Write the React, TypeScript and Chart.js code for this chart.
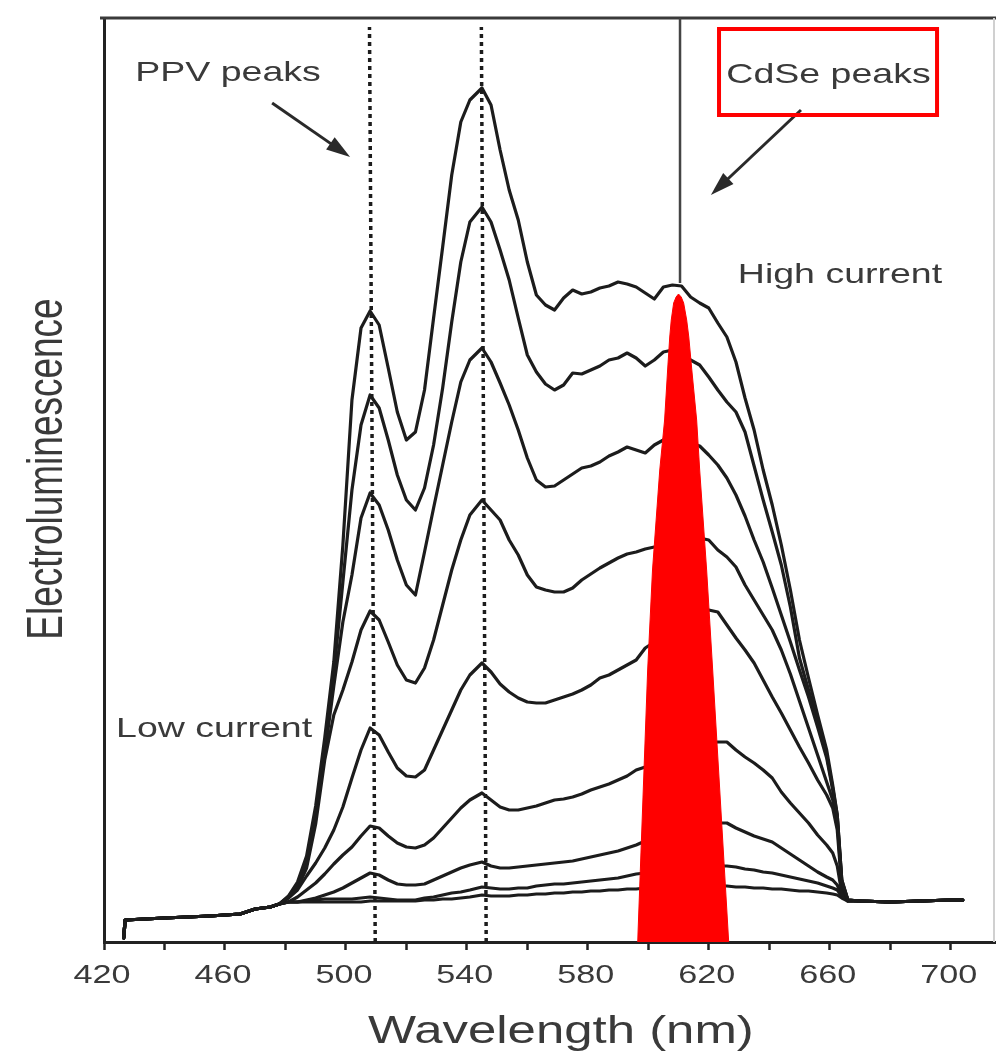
import React, { useEffect, useRef } from 'react';
import { Chart, registerables } from 'chart.js';

Chart.register(...registerables);

// ---------- DATA ----------
// Wavelength grid (nm) shared by the nine electroluminescence spectra
const wavelengths = [
  426.5, 427, 440, 455, 465, 470, 475, 478, 481,
  484, 487, 490, 493, 496, 499, 502, 505, 508, 511, 514, 517, 520, 523, 526, 529, 532, 535, 538, 541,
  545,
  548, 551, 554, 557, 560, 563, 566, 569, 572, 575, 578, 581, 584, 587, 590, 593, 596, 599, 602, 605,
  608, 611, 614, 617, 620, 623, 626, 629, 632, 635, 638, 641, 644, 647, 650, 653, 656, 659,
  661, 662.5, 664, 666, 670, 680, 690, 700, 704,
];

// Electroluminescence (a.u.), highest current first
const current1 = [
  0.4, 2.2, 2.4, 2.6, 2.8, 3.3, 3.5, 3.8, 4.6,
  6.0, 8.6, 13.6, 20.4, 28.0, 39.7, 54.2, 61.4, 63.1, 61.7, 57.4, 53.0, 50.2, 51.0, 55.2, 62.4, 69.5, 76.7, 82.0, 84.2,
  85.4,
  83.7, 79.2, 75.2, 72.2, 68.0, 64.7, 63.7, 63.2, 64.4, 65.2, 64.8, 65.0, 65.4, 65.6, 66.0, 65.8, 65.5, 64.9, 64.3, 65.5,
  65.7, 65.6, 64.5, 63.9, 63.4, 61.9, 60.5, 58.0, 54.4, 51.2, 47.2, 43.7, 39.7, 35.2, 30.2, 26.4, 22.7, 19.2,
  15.7, 12.7, 6.2, 4.2, 4.1, 4.0, 4.1, 4.2, 4.2,
];
const current2 = [
  0.4, 2.2, 2.4, 2.6, 2.8, 3.3, 3.5, 3.8, 4.5,
  5.8, 8.2, 13.0, 19.6, 26.8, 36.0, 45.2, 51.7, 54.7, 53.4, 50.2, 46.7, 44.2, 43.2, 45.4, 49.7, 55.4, 62.0, 68.0, 72.0,
  73.5,
  72.0, 69.2, 66.2, 62.4, 58.7, 57.0, 55.8, 55.2, 55.7, 56.9, 56.8, 57.2, 57.6, 58.2, 58.4, 58.9, 58.4, 57.6, 58.2, 59.0,
  59.2, 58.7, 58.2, 57.7, 56.5, 55.2, 54.0, 53.0, 51.0, 47.6, 44.2, 41.0, 37.7, 33.5, 28.4, 25.2, 22.0, 18.7,
  15.4, 12.7, 6.2, 4.2, 4.1, 4.0, 4.1, 4.2, 4.2,
];
const current3 = [
  0.4, 2.2, 2.4, 2.6, 2.8, 3.3, 3.5, 3.8, 4.5,
  5.6, 7.8, 12.4, 18.8, 25.6, 32.0, 36.7, 42.4, 44.9, 43.7, 41.2, 38.2, 35.7, 34.7, 39.0, 43.4, 47.7, 52.0, 56.0, 58.2,
  59.4,
  58.0, 55.9, 53.7, 51.2, 48.4, 46.2, 45.5, 45.6, 46.2, 46.8, 47.4, 47.6, 48.0, 48.6, 49.0, 49.5, 49.2, 48.9, 49.7, 50.2,
  50.4, 50.2, 49.9, 49.6, 48.7, 47.7, 46.4, 44.7, 42.6, 40.2, 38.0, 35.4, 32.7, 30.0, 27.2, 24.5, 21.5, 18.4,
  15.2, 12.4, 6.0, 4.2, 4.1, 4.0, 4.1, 4.2, 4.2,
];
const current4 = [
  0.4, 2.2, 2.4, 2.6, 2.8, 3.3, 3.5, 3.8, 4.4,
  5.4, 7.4, 11.8, 18.2, 22.7, 25.2, 28.0, 31.2, 33.1, 32.2, 30.0, 27.7, 26.2, 25.9, 27.4, 30.2, 33.7, 37.2, 40.2, 42.7,
  44.2,
  43.2, 42.2, 40.2, 38.7, 36.7, 35.5, 35.2, 35.0, 35.0, 35.4, 36.2, 36.8, 37.4, 37.9, 38.4, 38.8, 39.0, 39.3, 39.5, 39.7,
  39.9, 40.1, 40.2, 40.4, 40.2, 39.2, 38.5, 37.5, 35.7, 34.2, 32.7, 31.2, 29.2, 26.8, 24.1, 21.4, 18.7, 16.0,
  14.2, 12.0, 5.8, 4.2, 4.1, 4.0, 4.1, 4.2, 4.2,
];
const current5 = [
  0.4, 2.2, 2.4, 2.6, 2.8, 3.3, 3.5, 3.8, 4.4,
  5.2, 6.6, 7.9, 9.4, 11.2, 13.5, 16.4, 19.2, 21.4, 20.7, 19.0, 17.4, 16.6, 16.5, 17.2, 19.2, 21.2, 23.2, 25.2, 26.7,
  27.9,
  27.0, 25.8, 25.0, 24.4, 24.0, 23.9, 23.9, 24.2, 24.5, 24.8, 25.2, 25.7, 26.4, 26.7, 27.2, 27.7, 28.2, 29.4, 30.0, 30.6,
  31.4, 32.2, 32.8, 33.2, 33.2, 33.0, 31.7, 30.4, 29.2, 27.9, 26.2, 24.5, 22.9, 21.2, 19.5, 17.9, 16.2, 14.7,
  13.4, 11.2, 5.5, 4.2, 4.1, 4.0, 4.1, 4.2, 4.2,
];
const current6 = [
  0.4, 2.2, 2.4, 2.6, 2.8, 3.3, 3.5, 3.8, 4.0,
  4.5, 5.2, 5.9, 6.8, 7.8, 8.7, 9.5, 10.6, 11.6, 11.4, 10.6, 9.9, 9.5, 9.4, 9.7, 10.4, 11.4, 12.4, 13.4, 14.2,
  14.9,
  14.2, 13.5, 13.2, 13.2, 13.4, 13.6, 13.9, 14.2, 14.3, 14.5, 14.8, 15.2, 15.5, 15.8, 16.2, 16.6, 17.2, 17.5, 18.0, 18.4,
  18.9, 19.2, 19.5, 19.7, 19.9, 20.0, 20.0, 19.2, 18.5, 17.9, 17.2, 16.4, 15.0, 13.9, 12.9, 11.9, 10.7, 9.7,
  8.9, 7.6, 4.9, 4.1, 4.1, 4.0, 4.1, 4.2, 4.2,
];
const current7 = [
  0.4, 2.2, 2.4, 2.6, 2.8, 3.3, 3.5, 3.8, 4.0,
  4.0, 4.2, 4.4, 4.7, 5.0, 5.4, 5.9, 6.4, 6.9, 6.7, 6.2, 5.8, 5.7, 5.7, 5.8, 6.2, 6.6, 7.0, 7.4, 7.7,
  8.0,
  7.6, 7.4, 7.4, 7.5, 7.6, 7.7, 7.8, 7.9, 8.0, 8.1, 8.3, 8.5, 8.7, 8.9, 9.1, 9.4, 9.7, 10.1, 10.4, 10.6,
  10.9, 11.2, 11.4, 11.6, 11.8, 11.9, 11.9, 11.4, 11.0, 10.6, 10.3, 10.0, 9.4, 8.8, 8.2, 7.6, 7.0, 6.5,
  6.2, 5.7, 4.7, 4.1, 4.1, 4.0, 4.1, 4.2, 4.2,
];
const current8 = [
  0.4, 2.2, 2.4, 2.6, 2.8, 3.3, 3.5, 3.8, 4.0,
  4.0, 4.1, 4.2, 4.3, 4.3, 4.3, 4.3, 4.4, 4.5, 4.4, 4.3, 4.2, 4.2, 4.2, 4.4, 4.5, 4.7, 4.9, 5.0, 5.2,
  5.5,
  5.4, 5.3, 5.3, 5.4, 5.4, 5.6, 5.7, 5.8, 5.8, 5.9, 6.0, 6.1, 6.2, 6.3, 6.4, 6.6, 6.8, 6.9, 7.0, 7.1,
  7.2, 7.3, 7.4, 7.4, 7.5, 7.6, 7.6, 7.5, 7.3, 7.2, 7.0, 6.9, 6.7, 6.5, 6.3, 6.1, 5.9, 5.6,
  5.4, 5.2, 4.6, 4.1, 4.1, 4.0, 4.1, 4.2, 4.2,
];
const current9 = [
  0.4, 2.2, 2.4, 2.6, 2.8, 3.3, 3.5, 3.8, 4.0,
  4.0, 4.0, 4.0, 4.0, 4.0, 4.0, 4.0, 4.0, 4.1, 4.1, 4.1, 4.1, 4.1, 4.1, 4.2, 4.2, 4.3, 4.3, 4.4, 4.5,
  4.7,
  4.6, 4.6, 4.6, 4.7, 4.7, 4.8, 4.8, 4.9, 4.9, 5.0, 5.0, 5.1, 5.1, 5.2, 5.2, 5.3, 5.3, 5.4, 5.4, 5.4,
  5.5, 5.5, 5.5, 5.6, 5.6, 5.6, 5.6, 5.5, 5.5, 5.4, 5.4, 5.3, 5.3, 5.2, 5.1, 5.1, 5.0, 4.9,
  4.8, 4.7, 4.4, 4.1, 4.1, 4.0, 4.1, 4.2, 4.2,
];

// Red CdSe emission peak overlay (outline points)
const cdseWavelengths = [596.5, 599.8, 601.4, 603.8, 605.4, 606.4, 607.1, 607.6, 608.4, 609.2, 610.0, 610.9, 611.7, 612.7, 613.4, 614.4, 616.0, 617.0, 619.3, 621.3, 626.6];
const cdseValues = [0, 27.2, 37.2, 47.2, 52.2, 57.2, 60.5, 62.2, 63.9, 64.5, 64.8, 64.5, 63.9, 62.2, 60.5, 57.2, 52.2, 47.2, 37.2, 27.2, 0];

// PPV peak markers (dotted), bottom and top wavelength of each line
const ppvPeakBottom = [509.7, 546.4];
const ppvPeakTop = [507.8, 544.8];
// CdSe peak marker (solid)
const cdsePeak = 610.5;

// Axis
const xTickLabels = [420, 460, 500, 540, 580, 620, 660, 700];
const X_MIN = 420;
const X_MAX = 715;
const Y_MAX = 92.4;

// ---------- STYLE ----------
const SX = 1.34; // horizontal text stretch of the scanned figure
const FONT = '"Liberation Sans", Arial, Helvetica, sans-serif';
const TEXT_COLOR = '#3a3a3a';
const INK = '#1c1c1c';

function stretchedText(ctx: CanvasRenderingContext2D, text: string, x: number, y: number, size: number, rotate = false) {
  ctx.save();
  ctx.translate(x, y);
  if (rotate) {
    ctx.rotate(-Math.PI / 2);
    ctx.scale(1, SX);
  } else {
    ctx.scale(SX, 1);
  }
  ctx.font = `${size}px ${FONT}`;
  ctx.fillStyle = TEXT_COLOR;
  ctx.textAlign = 'center';
  ctx.textBaseline = 'alphabetic';
  ctx.fillText(text, 0, 0);
  ctx.restore();
}

function drawArrow(ctx: CanvasRenderingContext2D, x1: number, y1: number, x2: number, y2: number) {
  const ang = Math.atan2(y2 - y1, x2 - x1);
  const len = 24;
  const half = 7.5;
  const bx = x2 - Math.cos(ang) * len;
  const by = y2 - Math.sin(ang) * len;
  ctx.save();
  ctx.strokeStyle = '#2a2a2a';
  ctx.fillStyle = '#2a2a2a';
  ctx.lineWidth = 3;
  ctx.beginPath();
  ctx.moveTo(x1, y1);
  ctx.lineTo(bx + Math.cos(ang) * 4, by + Math.sin(ang) * 4);
  ctx.stroke();
  ctx.beginPath();
  ctx.moveTo(x2, y2);
  ctx.lineTo(bx + Math.sin(ang) * half, by - Math.cos(ang) * half);
  ctx.lineTo(bx - Math.sin(ang) * half, by + Math.cos(ang) * half);
  ctx.closePath();
  ctx.fill();
  ctx.restore();
}

const framePlugin = {
  id: 'frame',
  beforeDatasetsDraw(chart: any) {
    const { ctx, chartArea } = chart;
    ctx.save();
    ctx.strokeStyle = '#3a3a3a';
    ctx.lineWidth = 3;
    ctx.beginPath();
    ctx.moveTo(chartArea.left - 4, chartArea.top);
    ctx.lineTo(chart.width, chartArea.top);
    ctx.stroke();
    ctx.strokeStyle = '#d0d0d0';
    ctx.lineWidth = 2;
    ctx.beginPath();
    ctx.moveTo(chart.width - 2, chartArea.top);
    ctx.lineTo(chart.width - 2, chartArea.bottom);
    ctx.stroke();
    ctx.restore();
  },
};

const annotationPlugin = {
  id: 'annotations',
  afterDraw(chart: any) {
    const { ctx, chartArea } = chart;
    const xs = chart.scales.x;
    const ys = chart.scales.y;
    const px = (v: number) => xs.getPixelForValue(v);
    const py = (v: number) => ys.getPixelForValue(v);

    // arrows
    drawArrow(ctx, px(475.6), py(83.9), px(501.4), py(78.5));
    drawArrow(ctx, px(650.5), py(83.2), px(620.7), py(74.7));

    // red box around "CdSe peaks"
    ctx.save();
    ctx.strokeStyle = '#ff0000';
    ctx.lineWidth = 4;
    const bx1 = px(623.4), bx2 = px(695.5), by1 = py(91.3), by2 = py(82.7);
    ctx.strokeRect(bx1, by1, bx2 - bx1, by2 - by1);
    ctx.restore();

    // annotation texts
    stretchedText(ctx, 'PPV peaks', px(461.0), py(86.1), 28);
    stretchedText(ctx, 'CdSe peaks', px(659.6), py(85.9), 28);
    stretchedText(ctx, 'High current', px(663.4), py(65.9), 28);
    stretchedText(ctx, 'Low current', px(456.4), py(20.5), 28);

    // x tick labels
    xTickLabels.forEach((t) => {
      stretchedText(ctx, String(t), px(t) - 2, chartArea.bottom + 41, 25.5);
    });
    // axis titles
    stretchedText(ctx, 'Wavelength (nm)', px(571.1), chartArea.bottom + 101, 38);
    stretchedText(ctx, 'Electroluminescence', 62, py(47.3), 37, true);
  },
};

export default function App() {
  const ref = useRef<HTMLCanvasElement>(null);

  useEffect(() => {
    if (!ref.current) return;
    const series = [current1, current2, current3, current4, current5, current6, current7, current8, current9];

    const curveDatasets = series.map((s, k) => ({
      label: `EL ${k + 1}`,
      data: wavelengths.map((w, i) => ({ x: w, y: s[i] })),
      borderColor: INK,
      borderWidth: 3.2,
      borderJoinStyle: 'round',
      borderCapStyle: 'round',
      pointRadius: 0,
      fill: false,
      tension: 0,
      order: 1,
    }));

    const ppvDatasets = ppvPeakBottom.map((b, i) => ({
      label: `PPV peak ${i + 1}`,
      data: [
        { x: b, y: 0 },
        { x: ppvPeakTop[i], y: 91.5 },
      ],
      borderColor: INK,
      borderWidth: 3.5,
      borderDash: [4, 4],
      pointRadius: 0,
      fill: false,
      order: 2,
    }));

    const cdseLine = {
      label: 'CdSe peak',
      data: [
        { x: cdsePeak, y: 65.9 },
        { x: cdsePeak, y: Y_MAX },
      ],
      borderColor: '#444444',
      borderWidth: 2.5,
      pointRadius: 0,
      fill: false,
      order: 2,
    };

    const cdseShape = {
      label: 'CdSe emission',
      data: cdseWavelengths.map((w, i) => ({ x: w, y: cdseValues[i] })),
      borderColor: '#ff0000',
      backgroundColor: '#ff0000',
      borderWidth: 1,
      pointRadius: 0,
      fill: 'origin',
      tension: 0,
      order: 0,
    };

    const chart = new Chart(ref.current, {
      type: 'line',
      data: { datasets: [cdseShape, ...curveDatasets, cdseLine, ...ppvDatasets] as any },
      options: {
        animation: false,
        responsive: false,
        maintainAspectRatio: false,
        devicePixelRatio: 1,
        events: [],
        layout: { padding: { top: 18, right: 0, bottom: 0, left: 0 } },
        plugins: {
          legend: { display: false },
          tooltip: { enabled: false },
          title: { display: false },
        },
        elements: { point: { radius: 0 } },
        scales: {
          x: {
            type: 'linear',
            min: X_MIN,
            max: X_MAX,
            ticks: {
              stepSize: 20,
              autoSkip: false,
              maxRotation: 0,
              callback: () => '',
            },
            afterBuildTicks: (scale: any) => {
              scale.ticks = scale.ticks.filter((t: any) => t.value <= 700 && Math.abs(t.value % 20) < 1e-6);
            },
            grid: {
              display: true,
              drawOnChartArea: false,
              drawTicks: true,
              tickLength: 8,
              tickColor: '#222222',
              tickWidth: 2.5,
            },
            border: { display: true, color: '#222222', width: 3 },
            afterFit: (scale: any) => {
              scale.height = 112;
            },
          },
          y: {
            type: 'linear',
            min: 0,
            max: Y_MAX,
            ticks: { display: false },
            grid: { display: false, drawTicks: false },
            border: { display: true, color: '#222222', width: 3 },
            afterFit: (scale: any) => {
              scale.width = 104;
            },
          },
        },
      } as any,
      plugins: [framePlugin, annotationPlugin],
    });
    return () => chart.destroy();
  }, []);

  return (
    <div style={{ position: 'absolute', left: 0, top: 0, width: 996, height: 1054, background: '#ffffff' }}>
      <canvas ref={ref} width={996} height={1054} style={{ display: 'block', width: 996, height: 1054 }} />
    </div>
  );
}
